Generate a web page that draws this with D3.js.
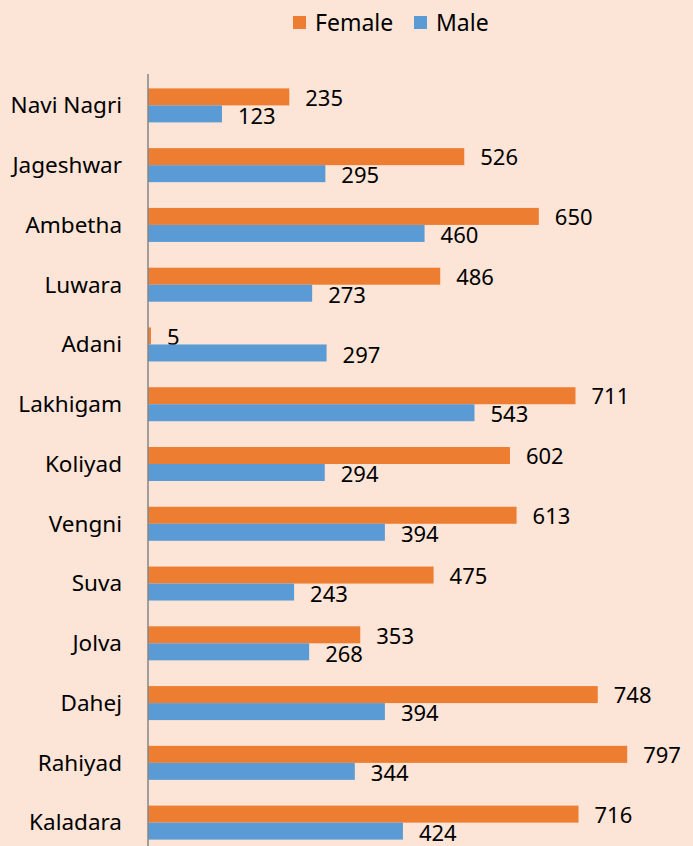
<!DOCTYPE html>
<html>
<head>
<meta charset="utf-8">
<script src="https://cdn.jsdelivr.net/npm/d3@7"></script>
<style>
  html, body { margin: 0; padding: 0; background: #FCE4D6; }
  svg { display: block; }
  text { font-family: "Noto Sans", "Open Sans", sans-serif; fill: #000; }
</style>
</head>
<body>
<div id="chart"></div>
<script>
let width = 693
let height = 846

let villages = ['Navi Nagri', 'Jageshwar', 'Ambetha', 'Luwara', 'Adani', 'Lakhigam', 'Koliyad',
	'Vengni', 'Suva', 'Jolva', 'Dahej', 'Rahiyad', 'Kaladara']

let female = [235, 526, 650, 486, 5, 711, 602, 613, 475, 353, 748, 797, 716]

let male = [123, 295, 460, 273, 297, 543, 294, 394, 243, 268, 394, 344, 424]

let seriesNames = ['Female', 'Male']

let colors = ['#ED7D31', '#5B9BD5']

let axisX = 148

const svg = d3.select('#chart')
	.append('svg')
	.attr('width', width)
	.attr('height', height)

svg.append('rect')
	.attr('width', width)
	.attr('height', height)
	.attr('fill', '#FCE4D6')

let xScale = d3.scaleLinear()
	.domain([0, 800])
	.range([axisX, 629])

let yScale = d3.scaleBand()
	.domain(villages)
	.range([75.5, 852.5])

let barH = 17

let rows = villages.map((v, i) => ({name: v, values: [female[i], male[i]]}))

let groups = svg.selectAll('.row')
	.data(rows)
	.enter()
	.append('g')
	.attr('transform', d => `translate(0,${yScale(d.name) + yScale.bandwidth() / 2})`)

seriesNames.forEach((s, k) => {
	groups.append('rect')
		.attr('x', axisX)
		.attr('y', k === 0 ? -barH : 0)
		.attr('width', d => xScale(d.values[k]) - axisX)
		.attr('height', barH)
		.attr('fill', colors[k])

	groups.append('text')
		.attr('x', d => xScale(d.values[k]) + 16)
		.attr('y', k === 0 ? -barH / 2 + 1 : barH / 2 + 2)
		.attr('dy', '0.35em')
		.attr('font-size', 22)
		.text(d => d.values[k])
})

groups.append('text')
	.attr('x', 122)
	.attr('y', 0)
	.attr('dy', '0.35em')
	.attr('text-anchor', 'end')
	.attr('font-size', 22.5)
	.text(d => d.name)

// vertical axis line
svg.append('line')
	.attr('x1', axisX)
	.attr('x2', axisX)
	.attr('y1', 74)
	.attr('y2', height)
	.attr('stroke', '#868686')
	.attr('stroke-width', 1.5)

// legend
let legendX = [293, 414]
seriesNames.forEach((s, k) => {
	svg.append('rect')
		.attr('x', legendX[k])
		.attr('y', 16)
		.attr('width', 13)
		.attr('height', 13)
		.attr('fill', colors[k])
	svg.append('text')
		.attr('x', legendX[k] + 22)
		.attr('y', 22.5)
		.attr('dy', '0.35em')
		.attr('font-size', 23)
		.text(s)
})
</script>
</body>
</html>
